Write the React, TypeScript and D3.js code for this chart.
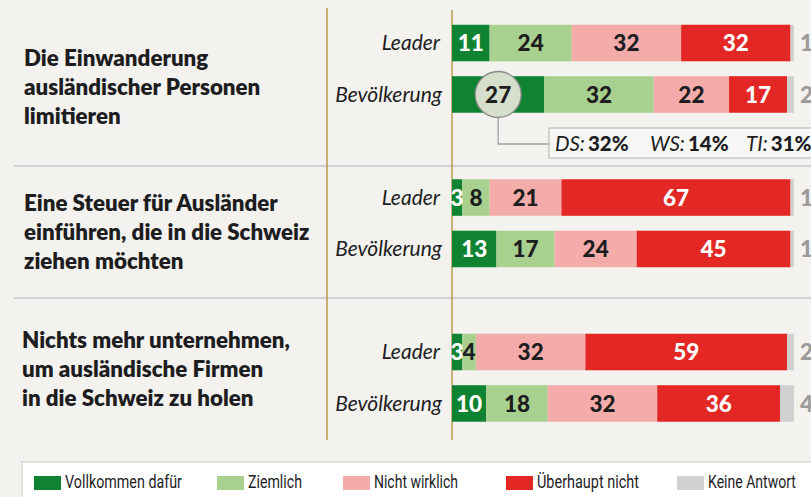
import React, { useEffect, useRef } from 'react';
import * as d3 from 'd3';

// question texts, one line per entry
const questions = [
  ['Die Einwanderung', 'ausländischer Personen', 'limitieren'],
  ['Eine Steuer für Ausländer', 'einführen, die in die Schweiz', 'ziehen möchten'],
  ['Nichts mehr unternehmen,', 'um ausländische Firmen', 'in die Schweiz zu holen'],
];
const groups = ['Leader', 'Bevölkerung'];
const categories = ['Vollkommen dafür', 'Ziemlich', 'Nicht wirklich', 'Überhaupt nicht', 'Keine Antwort'];
const leaderValues = [
  [11, 24, 32, 32, 1],
  [3, 8, 21, 67, 1],
  [3, 4, 32, 59, 2],
];
const bevoelkerungValues = [
  [27, 32, 22, 17, 2],
  [13, 17, 24, 45, 1],
  [10, 18, 32, 36, 4],
];
const partyLabels = ['DS', 'WS', 'TI'];
const partyValues = [32, 14, 31];

const colors = ['#0f8331', '#a8d08f', '#f3aca9', '#e32724', '#cfd0d2'];
const labelColors = ['#fff', '#1d1d1f', '#1d1d1f', '#fff'];
const BG = '#f3f2ee';
const GOLD = '#a8852a';

const W = 811;
const H = 497;
const sepY = [8, 166, 298, 440];
const legendX = [34, 217, 343, 506, 677];
const legendTextW = [117, 54, 84, 102, 88];

export default function App() {
  const legendRef = useRef<SVGGElement>(null);

  const x = d3.scaleLinear().domain([0, 100]).range([452, 794]);
  const ySection = d3.scaleBand<number>().domain([0, 1, 2]).range([-8.5, 455]);
  const yGroup = d3.scaleBand<string>().domain(groups).range([-44, 44]).paddingInner(0.29);
  const barH = yGroup.bandwidth();

  const rows = questions.map((q, qi) => [leaderValues[qi], bevoelkerungValues[qi]]);

  const bub = (() => {
    const vals = bevoelkerungValues[0];
    const cx = (x(0) + x(vals[0])) / 2;
    const cy = ySection(0)! + ySection.bandwidth() / 2 + yGroup('Bevölkerung')! + barH / 2;
    return { cx, cy };
  })();

  // squeeze the legend labels into a condensed look
  useEffect(() => {
    if (!legendRef.current) return;
    d3.select(legendRef.current).selectAll<SVGTextElement, unknown>('text.leg').each(function (_, i) {
      const len = this.getComputedTextLength();
      const s = len > 0 ? legendTextW[i] / len : 1;
      d3.select(this).attr('transform', `translate(${legendX[i] + 31},488) scale(${s},1)`);
    });
  }, []);

  return (
    <svg width={W} height={H} style={{ position: 'absolute', left: 0, top: 0, background: BG }}>
      <rect width={W} height={H} fill={BG} />

      {/* section separators */}
      {sepY.slice(1, 3).map((y) => (
        <line key={y} x1={14} x2={W} y1={y} y2={y} stroke="#c6c6c6" strokeWidth={1.5} />
      ))}
      <line x1={327} x2={327} y1={8} y2={440} stroke={GOLD} strokeWidth={1.2} />
      <line x1={452} x2={452} y1={10} y2={440} stroke={GOLD} strokeWidth={1.2} />

      {questions.map((lines, qi) => {
        const mid = (sepY[qi] + sepY[qi + 1]) / 2;
        const lh = 29;
        return (
          <text key={qi} fontFamily="Lato, sans-serif" fontWeight={800} fontSize={22.3} fill="#1d1d1f">
            {lines.map((l, li) => (
              <tspan key={li} x={qi === 2 ? 22 : 24} y={mid + (li - 1) * lh + 8}>{l}</tspan>
            ))}
          </text>
        );
      })}

      {rows.map((pair, qi) => {
        const c = ySection(qi)! + ySection.bandwidth() / 2;
        return pair.map((vals, gi) => {
          const y0 = c + yGroup(groups[gi])!;
          const cum = d3.cumsum(vals);
          return (
            <g key={`${qi}-${gi}`}>
              <text x={gi === 0 ? 440 : 442} y={y0 + barH / 2} dy="0.35em" textAnchor="end" fontFamily="Lato, sans-serif" fontStyle="italic" fontWeight={400} fontSize={21} fill="#1d1d1f">
                {groups[gi]}
              </text>
              {vals.map((v, i) => (
                <rect key={i} x={x(cum[i] - v)} y={y0} width={x(cum[i]) - x(cum[i] - v)} height={barH} fill={colors[i]} />
              ))}
              {vals.slice(0, 4).map((v, i) => (
                <text key={`t${i}`} x={(x(cum[i] - v) + x(cum[i])) / 2} y={y0 + barH / 2} dy="0.36em" textAnchor="middle"
                  fontFamily="Lato, sans-serif" fontWeight={900} fontSize={22.5} fill={labelColors[i]}>
                  {v}
                </text>
              ))}
              <text x={800} y={y0 + barH / 2} dy="0.36em" fontFamily="Lato, sans-serif" fontWeight={900} fontSize={22.5} fill="#9b9b9b">
                {vals[4]}
              </text>
            </g>
          );
        });
      })}

      {/* annotation bubble */}
      <polyline points={`${bub.cx},${bub.cy + 23} ${bub.cx},144 549,144`} fill="none" stroke="#a0a0a0" strokeWidth={1.3} />
      <circle cx={bub.cx} cy={bub.cy} r={23} fill="#d6dfcb" stroke="#8a8a8a" strokeWidth={1.3} />
      <text x={bub.cx} y={bub.cy} dy="0.36em" textAnchor="middle" fontFamily="Lato, sans-serif" fontWeight={900} fontSize={22.5} fill="#1d1d1f">
        {bevoelkerungValues[0][0]}
      </text>
      <rect x={549} y={128} width={280} height={30} fill="#f7f7f5" stroke="#b9b9b9" strokeWidth={1.2} />
      <text y={151} fontFamily="Lato, sans-serif" fontSize={20.5} fill="#1d1d1f">
        {partyLabels.map((p, i) => (
          <React.Fragment key={p}>
            <tspan x={[555, 650, 746][i]} fontStyle="italic" fontWeight={400}>{p}:</tspan>
            <tspan dx={3} fontWeight={900}>{partyValues[i]}%</tspan>
          </React.Fragment>
        ))}
      </text>

      {/* legend */}
      <rect x={22} y={462} width={810} height={45} fill="#fff" stroke="#cfcfcf" strokeWidth={1.2} />
      <g ref={legendRef}>
        {categories.map((cat, i) => (
          <g key={cat}>
            <rect x={legendX[i]} y={476} width={27} height={14} fill={colors[i]} />
            <text className="leg" transform={`translate(${legendX[i] + 31},488)`}
              fontFamily="Roboto, 'Liberation Sans', sans-serif" fontSize={18} fill="#1d1d1f">
              {cat}
            </text>
          </g>
        ))}
      </g>
    </svg>
  );
}
